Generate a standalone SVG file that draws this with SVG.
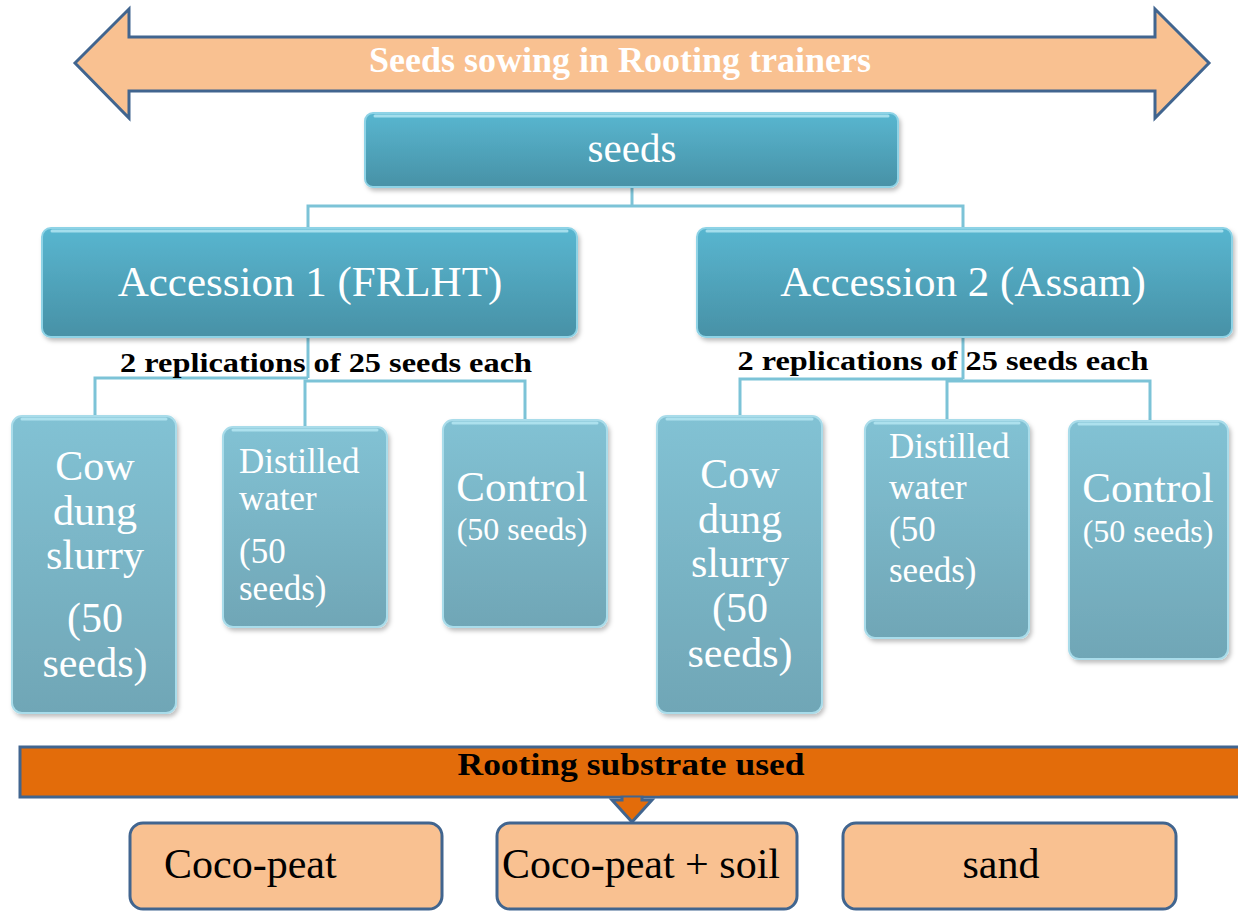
<svg xmlns="http://www.w3.org/2000/svg" width="1238" height="911" viewBox="0 0 1238 911">
<defs>
<linearGradient id="gTop" x1="0" y1="0" x2="0" y2="1">
<stop offset="0" stop-color="#58B6D0"/>
<stop offset="1" stop-color="#4891A6"/>
</linearGradient>
<linearGradient id="gChild" x1="0" y1="0" x2="0" y2="1">
<stop offset="0" stop-color="#82C2D4"/>
<stop offset="1" stop-color="#70A6B6"/>
</linearGradient>
<filter id="sh" x="-10%" y="-10%" width="130%" height="130%">
<feDropShadow dx="2" dy="3" stdDeviation="2" flood-color="#000" flood-opacity="0.25"/>
</filter>
<style>
.top{fill:url(#gTop);stroke:#8ED3E6;stroke-width:2;filter:url(#sh)}
.child{fill:url(#gChild);stroke:#A9DCEA;stroke-width:2;filter:url(#sh)}
.hl{fill:none;stroke:#B8E8F4;stroke-width:3;stroke-linecap:round;opacity:0.8}
.con{fill:none;stroke:#7CC3D7;stroke-width:3}
.peach{fill:#F9C191;stroke:#41658F;stroke-width:3}
</style>
</defs>
<rect width="1238" height="911" fill="#FFFFFF"/>

<g id="banner">
<polygon class="peach" points="75,63 129,9 129,37 1155,37 1155,9 1209,63 1155,118 1155,91 129,91 129,118"/>
<text x="620" y="72" font-family="'Liberation Serif','Times New Roman',serif" fill="#FFFFFF" font-size="36" font-weight="bold" text-anchor="middle">Seeds sowing in Rooting trainers</text>
</g>

<g id="connectors">
<polyline class="con" points="632,187 632,206"/>
<polyline class="con" points="308,228 308,206 963,206 963,228"/>
<polyline class="con" points="308,337 308,378"/>
<polyline class="con" points="95,416 95,378 308,378"/>
<polyline class="con" points="305,427 305,381 525,381 525,420"/>
<polyline class="con" points="963,337 963,379"/>
<polyline class="con" points="740,416 740,379 963,379"/>
<polyline class="con" points="947,420 947,381 1150,381 1150,421"/>
</g>

<g id="seeds">
<rect class="top" x="365" y="113" width="533" height="74" rx="8"/>
<line class="hl" x1="375" y1="116" x2="888" y2="116"/>
<text x="632" y="162" font-family="'Liberation Serif','Times New Roman',serif" fill="#FFFFFF" font-size="41" text-anchor="middle">seeds</text>
</g>

<g id="acc1">
<rect class="top" x="42" y="228" width="535" height="109" rx="9"/>
<line class="hl" x1="52" y1="231" x2="567" y2="231"/>
<text x="310" y="296" font-family="'Liberation Serif','Times New Roman',serif" fill="#FFFFFF" font-size="43" text-anchor="middle">Accession 1 (FRLHT)</text>
</g>

<g id="acc2">
<rect class="top" x="697" y="228" width="535" height="109" rx="9"/>
<line class="hl" x1="707" y1="231" x2="1222" y2="231"/>
<text x="963" y="296" font-family="'Liberation Serif','Times New Roman',serif" fill="#FFFFFF" font-size="43" text-anchor="middle">Accession 2 (Assam)</text>
</g>

<g id="rep1">
<text x="326" y="372" font-family="'Liberation Serif','Times New Roman',serif" font-weight="bold" fill="#000000" font-size="28" text-anchor="middle" textLength="412" lengthAdjust="spacingAndGlyphs">2 replications of 25 seeds each</text>
</g>
<g id="rep2">
<text x="943" y="370" font-family="'Liberation Serif','Times New Roman',serif" font-weight="bold" fill="#000000" font-size="28" text-anchor="middle" textLength="411" lengthAdjust="spacingAndGlyphs">2 replications of 25 seeds each</text>
</g>

<g id="cow1">
<rect class="child" x="12" y="416" width="164" height="297" rx="10"/>
<line class="hl" x1="22" y1="419" x2="166" y2="419"/>
<text font-family="'Liberation Serif','Times New Roman',serif" fill="#FFFFFF" font-size="42" text-anchor="middle"><tspan x="95" y="480">Cow</tspan><tspan x="95" y="525">dung</tspan><tspan x="95" y="569">slurry</tspan><tspan x="95" y="632">(50</tspan><tspan x="95" y="677">seeds)</tspan></text>
</g>

<g id="dw1">
<rect class="child" x="223" y="427" width="164" height="200" rx="10"/>
<line class="hl" x1="233" y1="430" x2="377" y2="430"/>
<text font-family="'Liberation Serif','Times New Roman',serif" fill="#FFFFFF" font-size="35"><tspan x="239" y="473">Distilled</tspan><tspan x="239" y="510">water</tspan><tspan x="239" y="563">(50</tspan><tspan x="239" y="600">seeds)</tspan></text>
</g>

<g id="ctrl1">
<rect class="child" x="443" y="420" width="164" height="207" rx="10"/>
<line class="hl" x1="453" y1="423" x2="597" y2="423"/>
<text x="522" y="501" font-family="'Liberation Serif','Times New Roman',serif" fill="#FFFFFF" font-size="43" text-anchor="middle">Control</text>
<text x="522" y="540" font-family="'Liberation Serif','Times New Roman',serif" fill="#FFFFFF" font-size="32" text-anchor="middle">(50 seeds)</text>
</g>

<g id="cow2">
<rect class="child" x="657" y="416" width="165" height="297" rx="10"/>
<line class="hl" x1="667" y1="419" x2="812" y2="419"/>
<text font-family="'Liberation Serif','Times New Roman',serif" fill="#FFFFFF" font-size="42" text-anchor="middle"><tspan x="740" y="488">Cow</tspan><tspan x="740" y="533">dung</tspan><tspan x="740" y="577">slurry</tspan><tspan x="740" y="622">(50</tspan><tspan x="740" y="667">seeds)</tspan></text>
</g>

<g id="dw2">
<rect class="child" x="865" y="420" width="164" height="218" rx="10"/>
<line class="hl" x1="875" y1="423" x2="1019" y2="423"/>
<text font-family="'Liberation Serif','Times New Roman',serif" fill="#FFFFFF" font-size="35"><tspan x="889" y="458">Distilled</tspan><tspan x="889" y="499">water</tspan><tspan x="889" y="541">(50</tspan><tspan x="889" y="582">seeds)</tspan></text>
</g>

<g id="ctrl2">
<rect class="child" x="1069" y="421" width="159" height="238" rx="10"/>
<line class="hl" x1="1079" y1="424" x2="1218" y2="424"/>
<text x="1148" y="502" font-family="'Liberation Serif','Times New Roman',serif" fill="#FFFFFF" font-size="43" text-anchor="middle">Control</text>
<text x="1148" y="542" font-family="'Liberation Serif','Times New Roman',serif" fill="#FFFFFF" font-size="32" text-anchor="middle">(50 seeds)</text>
</g>

<g id="substrate">
<rect x="20" y="747" width="1230" height="50" fill="#E36C0A" stroke="#41658F" stroke-width="3"/>
<polygon points="622,796 642,796 642,800 652,800 632,822 612,800 622,800" fill="#E36C0A" stroke="#41658F" stroke-width="3" stroke-linejoin="miter"/>
<rect x="600" y="785" width="60" height="10.5" fill="#E36C0A"/>
<text x="631" y="775" font-family="'Liberation Serif','Times New Roman',serif" font-weight="bold" fill="#000000" font-size="32" text-anchor="middle" textLength="347" lengthAdjust="spacingAndGlyphs">Rooting substrate used</text>
</g>

<g id="cocopeat">
<rect class="peach" x="130" y="823" width="312" height="86" rx="13"/>
<text x="164" y="878" font-family="'Liberation Serif','Times New Roman',serif" font-size="42" fill="#000">Coco-peat</text>
</g>
<g id="cocosoil">
<rect class="peach" x="497" y="823" width="300" height="86" rx="13"/>
<text x="641" y="878" font-family="'Liberation Serif','Times New Roman',serif" font-size="42" fill="#000" text-anchor="middle">Coco-peat + soil</text>
</g>
<g id="sand">
<rect class="peach" x="843" y="823" width="333" height="86" rx="13"/>
<text x="1001" y="878" font-family="'Liberation Serif','Times New Roman',serif" font-size="42" fill="#000" text-anchor="middle">sand</text>
</g>
</svg>
